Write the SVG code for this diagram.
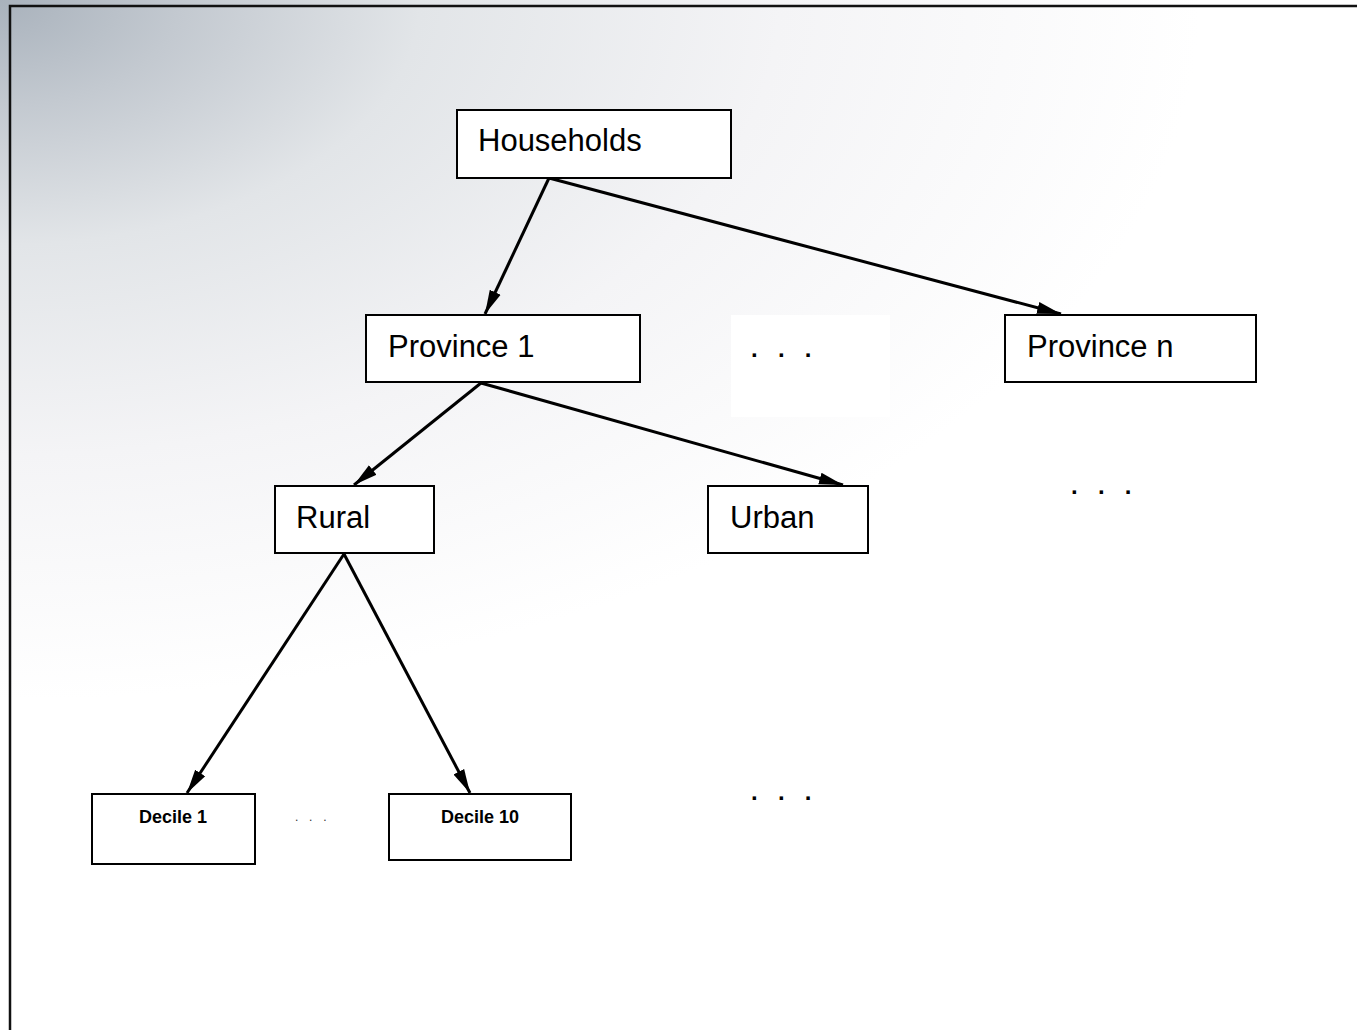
<svg xmlns="http://www.w3.org/2000/svg" width="1357" height="1030" viewBox="0 0 1357 1030">
<style>
.box{fill:#ffffff;stroke:#000000;stroke-width:2}
.lbl{font-family:"Liberation Sans",Arial,sans-serif;font-size:31px;fill:#000}
.small{font-family:"Liberation Sans",Arial,sans-serif;font-size:18px;font-weight:bold;fill:#000;text-anchor:middle}
.dots{font-family:"Liberation Sans",Arial,sans-serif;font-size:24px;font-weight:bold;fill:#000;letter-spacing:6.8px}
.tdots{font-family:"Liberation Sans",Arial,sans-serif;font-size:12px;fill:#333;letter-spacing:3.7px}
.edge{stroke:#000;stroke-width:3;fill:none;marker-end:url(#arr)}
</style>
<defs>
<radialGradient id="bg" gradientUnits="userSpaceOnUse" cx="0" cy="0" r="1000" gradientTransform="scale(1.2,0.7)">
<stop offset="0" stop-color="#a9b2bc"/>
<stop offset="0.15" stop-color="#c3c9d0"/>
<stop offset="0.35" stop-color="#e2e5e8"/>
<stop offset="0.65" stop-color="#f4f4f6"/>
<stop offset="1" stop-color="#ffffff"/>
</radialGradient>
<marker id="arr" markerUnits="userSpaceOnUse" markerWidth="26" markerHeight="16" refX="24" refY="7" orient="auto">
<path d="M0,1 L24,7 L0,13 z" fill="#000"/>
</marker>
</defs>
<rect x="0" y="0" width="1357" height="1030" fill="url(#bg)"/>
<path d="M10,1030 L10,6 L1357,6" fill="none" stroke="#111" stroke-width="2.5"/>
<rect x="731" y="315" width="159" height="102" fill="#ffffff"/>
<g id="connectors">
<line class="edge" x1="549" y1="178" x2="485" y2="314"/>
<line class="edge" x1="549" y1="178" x2="1061" y2="314"/>
<line class="edge" x1="481" y1="383" x2="354" y2="485"/>
<line class="edge" x1="481" y1="383" x2="843" y2="485"/>
<line class="edge" x1="344" y1="554" x2="187" y2="793"/>
<line class="edge" x1="344" y1="554" x2="470" y2="793"/>
</g>
<g id="households"><rect class="box" x="457" y="110" width="274" height="68"/><text class="lbl" x="478" y="151">Households</text></g>
<g id="province1"><rect class="box" x="366" y="315" width="274" height="67"/><text class="lbl" x="388" y="357">Province 1</text></g>
<g id="provinceN"><rect class="box" x="1005" y="315" width="251" height="67"/><text class="lbl" x="1027" y="357">Province n</text></g>
<g id="rural"><rect class="box" x="275" y="486" width="159" height="67"/><text class="lbl" x="296" y="528">Rural</text></g>
<g id="urban"><rect class="box" x="708" y="486" width="160" height="67"/><text class="lbl" x="730" y="528">Urban</text></g>
<g id="decile1"><rect class="box" x="92" y="794" width="163" height="70"/><text class="small" x="173" y="823">Decile 1</text></g>
<g id="decile10"><rect class="box" x="389" y="794" width="182" height="66"/><text class="small" x="480" y="823">Decile 10</text></g>
<text class="dots" x="751" y="357">. . .</text>
<text class="dots" x="1071" y="494">. . .</text>
<text class="dots" x="751" y="800">. . .</text>
<text class="tdots" x="295" y="821">. . .</text>
</svg>
